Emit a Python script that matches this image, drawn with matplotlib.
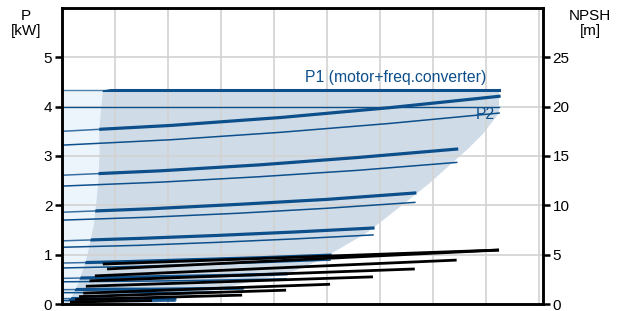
import matplotlib
matplotlib.use("Agg")
import matplotlib.pyplot as plt
from matplotlib.patches import Polygon, Rectangle

plt.rcParams['font.family'] = ['Liberation Sans', 'DejaVu Sans']

# power curves per speed (x in grid units, P in kW), read at 0, 1/4, 1/2, 3/4, 1 of x_end
x_end = [8.25, 7.45, 6.66, 5.87, 5.06, 4.23, 3.40, 2.13]
p1_curves = [
    [3.50, 3.62, 3.78, 3.98, 4.21],
    [2.61, 2.70, 2.82, 2.97, 3.14],
    [1.86, 1.93, 2.02, 2.12, 2.25],
    [1.28, 1.33, 1.39, 1.46, 1.54],
    [0.83, 0.86, 0.90, 0.94, 0.99],
    [0.52, 0.54, 0.56, 0.58, 0.61],
    [0.29, 0.30, 0.30, 0.31, 0.32],
    [0.11, 0.11, 0.10, 0.10, 0.10],
]
p2_curves = [
    [3.22, 3.33, 3.48, 3.66, 3.87],
    [2.39, 2.47, 2.58, 2.71, 2.87],
    [1.70, 1.76, 1.84, 1.94, 2.06],
    [1.15, 1.19, 1.25, 1.32, 1.40],
    [0.73, 0.76, 0.80, 0.84, 0.89],
    [0.45, 0.46, 0.47, 0.49, 0.51],
    [0.23, 0.23, 0.23, 0.24, 0.24],
    [0.07, 0.07, 0.065, 0.06, 0.06],
]
fractions = [0, 0.25, 0.5, 0.75, 1]

# NPSH lines [m]
npsh_x0 = [0.77, 0.85, 0.62, 0.52, 0.45, 0.40, 0.32, 0.25, 0.15]
npsh_y0 = [4.05, 3.55, 2.85, 2.35, 1.80, 1.10, 0.75, 0.45, 0.20]
npsh_x1 = [8.25, 8.25, 7.45, 6.66, 5.87, 5.06, 4.23, 3.40, 1.70]
npsh_y1 = [5.47, 5.47, 4.45, 3.55, 2.75, 2.00, 1.40, 0.90, 0.35]

# operating area outline
left_x = [0.77, 0.70, 0.71, 0.68, 0.60, 0.50, 0.44, 0.30, 0.17, 0.0]
left_y = [4.33, 3.50, 3.10, 2.40, 1.60, 1.10, 0.83, 0.40, 0.12, 0.0]
right_x = [1.70, 2.13, 2.85, 4.30, 4.87, 5.75, 6.30, 6.94, 7.64, 7.95, 8.25, 8.25]
right_y = [0.0, 0.12, 0.28, 0.63, 0.89, 1.44, 1.90, 2.45, 3.12, 3.45, 3.87, 4.33]
p1_max = 4.33
p2_max = 4.0
x_max = 8.25

blue = '#0d4f8b'

fig = plt.figure(figsize=(6.19, 3.11), dpi=100)
ax = fig.add_axes([0.1002, 0.0225, 0.7770, 0.9518])
ax.set_xlim(0, 9.08)
ax.set_ylim(0, 6)

ax.add_patch(Rectangle((0, 0), 1.0, p1_max, facecolor='#edf5fc',
                       edgecolor='none', zorder=0.2))
area = list(zip(left_x, left_y)) + list(zip(right_x, right_y))
ax.add_patch(Polygon(area, closed=True, facecolor='#cfdce8',
                     edgecolor='none', zorder=0.3))
clip = Polygon(list(zip(left_x, left_y)) + [(10, 0), (10, 6)],
               closed=True, transform=ax.transData)

ax.set_xticks(range(1, 10))
ax.set_yticks(range(0, 6))
ax.set_axisbelow(True)
ax.grid(True, color='#d2d2d2', lw=1.2)

ax.plot([0, x_max], [p2_max, p2_max], color=blue, lw=1.0, zorder=2)
ax.plot([0, x_max], [p1_max, p1_max], color=blue, lw=1.0, alpha=0.7, zorder=2)
ln, = ax.plot([0, x_max], [p1_max, p1_max], color=blue, lw=2.2, zorder=2)
ln.set_clip_path(clip)

for i in range(len(x_end)):
    xs = [f * x_end[i] for f in fractions]
    ax.plot(xs, p2_curves[i], color=blue, lw=1.1, zorder=2)
    ax.plot(xs, p1_curves[i], color=blue, lw=1.1, alpha=0.8, zorder=2)
    ln, = ax.plot(xs, p1_curves[i], color=blue, lw=2.3, zorder=2)
    ln.set_clip_path(clip)

ax.text(4.58, 4.6, 'P1 (motor+freq.converter)', color=blue, fontsize=11.3,
        ha='left', va='center')
ax.text(8.18, 3.85, 'P2', color=blue, fontsize=11.3, ha='right', va='center')

ax2 = ax.twinx()
ax2.set_ylim(0, 30)
ax2.set_yticks(range(0, 30, 5))
for i in range(len(npsh_x0)):
    ax2.plot([npsh_x0[i], npsh_x1[i]], [npsh_y0[i], npsh_y1[i]],
             color='black', lw=2.0, solid_capstyle='butt')

for a in (ax, ax2):
    for s in a.spines.values():
        s.set_linewidth(1.8)
        s.set_color('black')
ax.tick_params(axis='x', length=0, labelbottom=False)
ax.tick_params(axis='y', length=5, width=1.8, labelsize=11, pad=2)
ax2.tick_params(axis='y', length=5, width=1.8, labelsize=11, pad=2)

fig.text(26 / 619, 1 - 9 / 311, 'P\n[kW]', ha='center', va='top',
         fontsize=11, linespacing=1.05)
fig.text(590 / 619, 1 - 9 / 311, 'NPSH\n[m]', ha='center', va='top',
         fontsize=11, linespacing=1.05)

fig.savefig('out.png', dpi=100)
